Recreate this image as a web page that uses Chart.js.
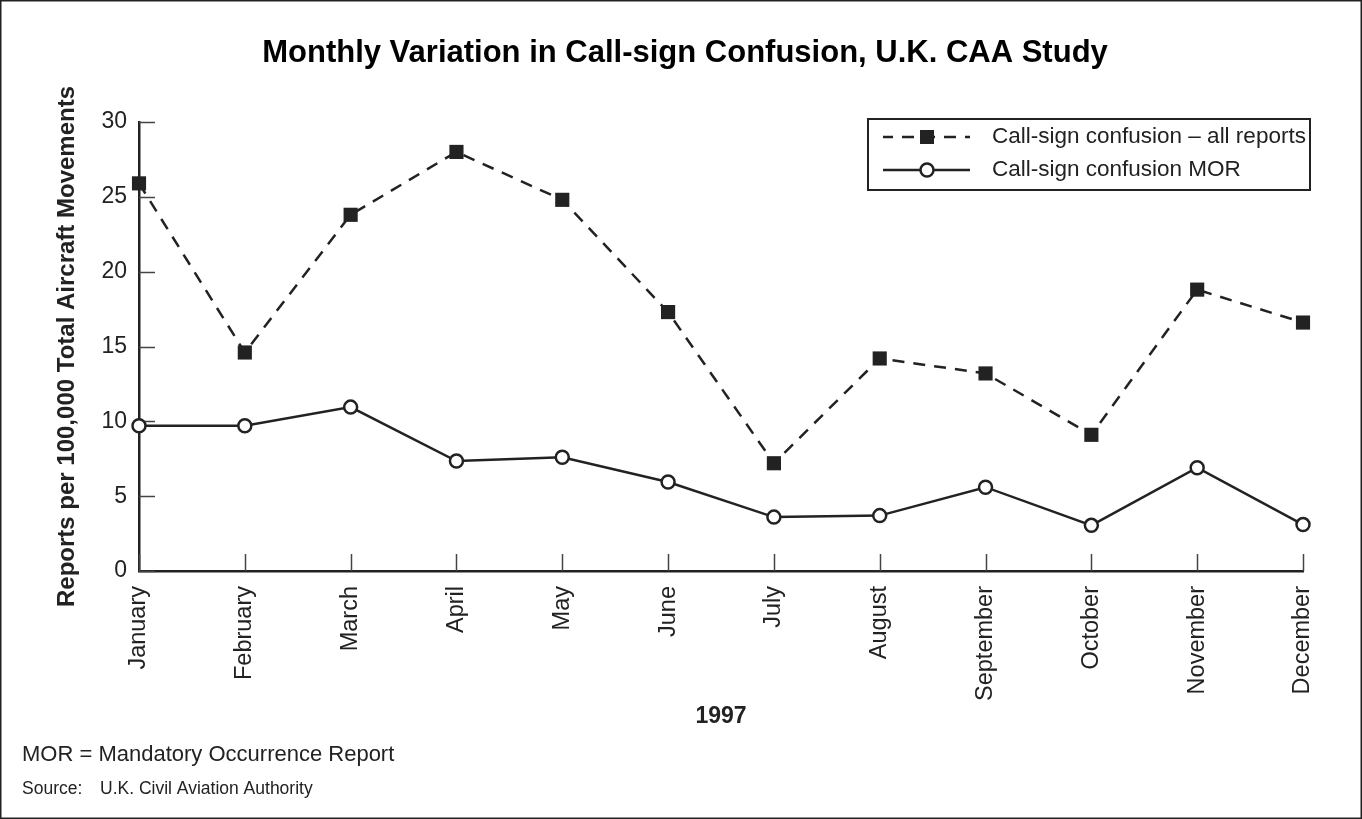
<!DOCTYPE html>
<html>
<head>
<meta charset="utf-8">
<title>Monthly Variation in Call-sign Confusion</title>
<script src="https://cdn.jsdelivr.net/npm/chart.js@4/dist/chart.umd.min.js"></script>
<style>
  body { margin: 0; background: #fff; }
  canvas { display: block; }
</style>
</head>
<body>
<canvas id="myChart" width="1362" height="819"></canvas>
<script>
'use strict';

var months = ['January', 'February', 'March', 'April', 'May', 'June',
              'July', 'August', 'September', 'October', 'November', 'December'];
var allReports = [25.9, 14.6, 23.8, 28.0, 24.8, 17.3, 7.2, 14.2, 13.2, 9.1, 18.8, 16.6];
var morReports = [9.7, 9.7, 10.95, 7.35, 7.6, 5.95, 3.6, 3.7, 5.6, 3.05, 6.9, 3.1];
var yTicks = [0, 5, 10, 15, 20, 25, 30];
var seriesNames = ['Call-sign confusion \u2013 all reports', 'Call-sign confusion MOR'];
var chartTitle = 'Monthly Variation in Call-sign Confusion, U.K. CAA Study';

var ink = '#222';
var fontFamily = '"Liberation Sans", Arial, Helvetica, sans-serif';
var dash = [12, 9];

// title, frame, inward tick marks, legend box and the notes under the chart
var extras = {
    id: 'extras',
    beforeDatasetsDraw: function (chart) {
        var ctx = chart.ctx;
        var xs = chart.scales.x, ys = chart.scales.y;
        var area = chart.chartArea;
        ctx.save();
        ctx.strokeStyle = '#444';
        ctx.lineWidth = 1.5;
        ctx.beginPath();
        yTicks.forEach(function (v) {
            var y = Math.round(ys.getPixelForValue(v)) + 0.5;
            ctx.moveTo(area.left, y);
            ctx.lineTo(area.left + 16, y);
        });
        months.forEach(function (m, i) {
            var x = Math.round(xs.getPixelForValue(i)) + 0.5;
            ctx.moveTo(x, area.bottom);
            ctx.lineTo(x, area.bottom - 17);
        });
        ctx.stroke();
        ctx.restore();
    },
    afterDraw: function (chart) {
        var ctx = chart.ctx;
        ctx.save();

        // outer frame
        ctx.strokeStyle = ink;
        ctx.lineWidth = 1.5;
        ctx.strokeRect(0.75, 0.75, chart.width - 1.5, chart.height - 1.5);

        // title
        ctx.fillStyle = '#000';
        ctx.font = 'bold 31px ' + fontFamily;
        ctx.textAlign = 'center';
        ctx.textBaseline = 'middle';
        ctx.fillText(chartTitle, 685, 53);

        // legend
        var bx = 868, by = 119, bw = 442, bh = 71;
        ctx.fillStyle = '#fff';
        ctx.fillRect(bx, by, bw, bh);
        ctx.lineWidth = 2;
        ctx.strokeRect(bx, by, bw, bh);
        var rows = [137, 170];
        ctx.lineWidth = 2.5;
        // row 1: dashed + square
        ctx.setLineDash(dash);
        ctx.lineDashOffset = 2;
        ctx.beginPath();
        ctx.moveTo(883, rows[0]);
        ctx.lineTo(970, rows[0]);
        ctx.stroke();
        ctx.setLineDash([]);
        ctx.fillStyle = ink;
        ctx.fillRect(927 - 7, rows[0] - 7, 14, 14);
        // row 2: solid + circle
        ctx.beginPath();
        ctx.moveTo(883, rows[1]);
        ctx.lineTo(970, rows[1]);
        ctx.stroke();
        ctx.beginPath();
        ctx.arc(927, rows[1], 6.5, 0, Math.PI * 2);
        ctx.fillStyle = '#fff';
        ctx.fill();
        ctx.stroke();

        ctx.fillStyle = ink;
        ctx.font = '22.5px ' + fontFamily;
        ctx.textAlign = 'left';
        ctx.fillText(seriesNames[0], 992, rows[0]);
        ctx.fillText(seriesNames[1], 992, rows[1]);

        // notes
        ctx.font = '22px ' + fontFamily;
        ctx.fillText('MOR = Mandatory Occurrence Report', 22, 755);
        ctx.font = '17.5px ' + fontFamily;
        ctx.fillText('Source:', 22, 789);
        ctx.fillText('U.K. Civil Aviation Authority', 100, 789);
        ctx.restore();
    }
};

var config = {
    type: 'line',
    data: {
        labels: months,
        datasets: [{
            label: seriesNames[0],
            data: allReports,
            borderColor: ink,
            borderWidth: 2.5,
            borderDash: dash,
            pointStyle: 'rect',
            pointRadius: 10,
            pointBackgroundColor: ink,
            pointBorderColor: ink,
            pointBorderWidth: 0,
            tension: 0,
            fill: false
        }, {
            label: seriesNames[1],
            data: morReports,
            borderColor: ink,
            borderWidth: 2.5,
            pointStyle: 'circle',
            pointRadius: 6.5,
            pointBackgroundColor: '#fff',
            pointBorderColor: ink,
            pointBorderWidth: 2.5,
            tension: 0,
            fill: false
        }]
    },
    options: {
        responsive: false,
        animation: false,
        events: [],
        layout: { padding: { top: 122, left: 0, right: 59, bottom: 80 } },
        plugins: {
            legend: { display: false },
            tooltip: { enabled: false },
            title: { display: false }
        },
        scales: {
            x: {
                offset: false,
                grid: { display: false },
                border: { display: true, color: ink, width: 2.5 },
                ticks: {
                    autoSkip: false,
                    minRotation: 90,
                    maxRotation: 90,
                    padding: 7,
                    color: ink,
                    font: { family: fontFamily, size: 23.5 }
                },
                title: {
                    display: true,
                    text: '1997',
                    color: ink,
                    font: { family: fontFamily, size: 23, weight: 'bold', lineHeight: 1.2 },
                    padding: { top: 0, bottom: 9 }
                },
                afterFit: function (scale) { scale.height = 168; }
            },
            y: {
                min: 0,
                max: 30,
                grid: { display: false },
                border: { display: true, color: ink, width: 2.5 },
                ticks: {
                    stepSize: 5,
                    padding: 4,
                    color: ink,
                    font: { family: fontFamily, size: 23 }
                },
                title: {
                    display: true,
                    text: 'Reports per 100,000 Total Aircraft Movements',
                    color: ink,
                    font: { family: fontFamily, size: 24, weight: 'bold', lineHeight: 1.2 },
                    padding: { top: 53, bottom: 0 }
                },
                afterFit: function (scale) { scale.width = 139; }
            }
        }
    },
    plugins: [extras]
};

var ctx = document.getElementById('myChart').getContext('2d');
window.myLine = new Chart(ctx, config);
</script>
</body>
</html>
